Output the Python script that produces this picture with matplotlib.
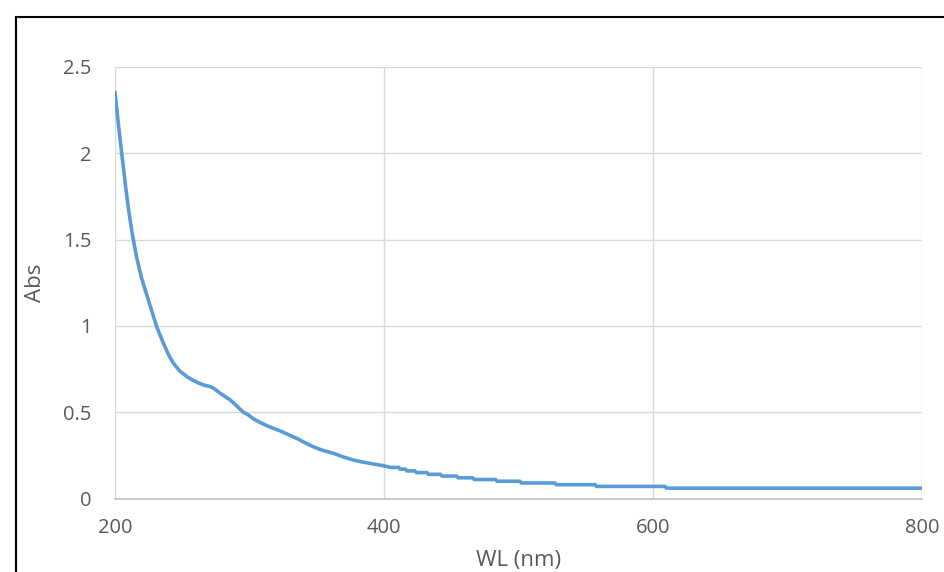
import matplotlib
matplotlib.use("Agg")
import matplotlib.pyplot as plt
from matplotlib.lines import Line2D

# 吸収スペクトル (読み取り値)
wl = [200, 202.5, 205, 208, 210, 212.4, 213.6, 216, 219.8, 222, 225, 228, 231, 236,
      240, 243.5, 248, 253.4, 258, 262, 265.8, 270.8, 274, 278.2, 282, 285.7,
      290, 295.4, 299, 302.8, 308, 314, 320, 322.7, 330, 336, 342, 347.4, 354,
      362.3, 370, 377.2, 385, 392, 399.5, 405, 411, 412, 416, 417, 423, 424,
      432, 433, 442, 443, 454, 455, 466, 467, 483, 484, 501, 502, 527, 528,
      557, 558, 609, 610, 800]
absorb = [2.355, 2.17, 2.0, 1.80, 1.68, 1.555, 1.5, 1.40, 1.276, 1.22, 1.145, 1.07,
          0.995, 0.899, 0.83, 0.783, 0.74, 0.706, 0.685, 0.670, 0.658, 0.648,
          0.635, 0.610, 0.59, 0.571, 0.54, 0.50, 0.485, 0.462, 0.44, 0.418,
          0.40, 0.392, 0.366, 0.345, 0.32, 0.30, 0.28, 0.262, 0.24, 0.223,
          0.21, 0.20, 0.19, 0.18, 0.18, 0.17, 0.17, 0.16, 0.16, 0.15,
          0.15, 0.14, 0.14, 0.13, 0.13, 0.12, 0.12, 0.11, 0.11, 0.10, 0.10,
          0.09, 0.09, 0.08, 0.08, 0.07, 0.07, 0.06, 0.06]

xticks = [200, 400, 600, 800]
yticks = [0, 0.5, 1, 1.5, 2, 2.5]
ytick_labels = ["0", "0.5", "1", "1.5", "2", "2.5"]

plt.rcParams["font.family"] = ["Open Sans", "DejaVu Sans"]

fig = plt.figure(figsize=(9.44, 5.72), dpi=100)
ax = fig.add_axes([115/944, 1 - 498.5/572, 807/944, 431.5/572])

ax.plot(wl, absorb, color="#5B9BD5", linewidth=2.6, solid_capstyle="round", zorder=3)

ax.set_xlim(200, 800)
ax.set_ylim(0, 2.5)
ax.set_xticks(xticks)
ax.set_yticks(yticks)
ax.set_yticklabels(ytick_labels)
ax.grid(True, color="#D9D9D9", linewidth=1.0)
ax.tick_params(length=0, labelsize=14.5, colors="#595959")
ax.tick_params(axis="y", pad=17)
ax.tick_params(axis="x", pad=14)
for s in ["top", "right", "left"]:
    ax.spines[s].set_visible(False)
ax.spines["bottom"].set_color("#BFBFBF")
ax.spines["bottom"].set_linewidth(1.2)

ax.set_xlabel("WL (nm)", fontsize=16, color="#595959", labelpad=9)
ax.set_ylabel("Abs", fontsize=16, color="#595959", labelpad=12)

# 枠線
fig.add_artist(Line2D([15.5/944, 15.5/944], [0, 1 - 17/572], color="black", linewidth=1.5))
fig.add_artist(Line2D([15.5/944, 1], [1 - 17/572, 1 - 17/572], color="black", linewidth=1.5))

fig.savefig("out.png", dpi=100)
